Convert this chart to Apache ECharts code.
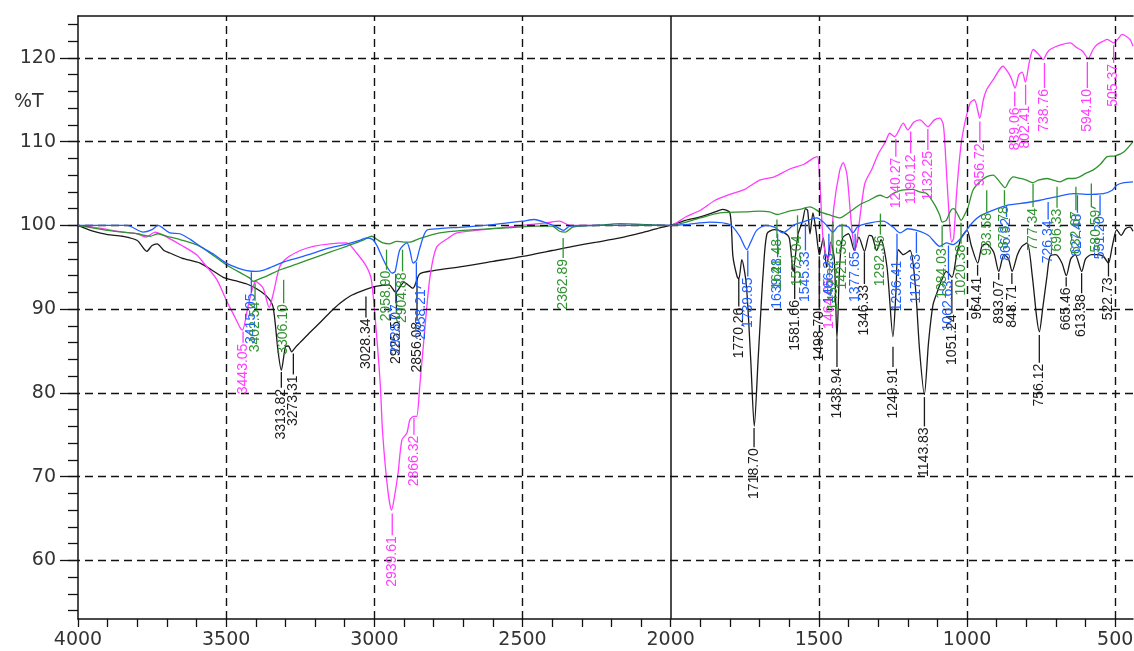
<!DOCTYPE html>
<html>
<head>
<meta charset="utf-8">
<title>IR overlay</title>
<script src="https://cdn.jsdelivr.net/npm/echarts@6/dist/echarts.min.js"></script>
<style>
html, body { margin: 0; padding: 0; background: #fff; }
#chart { width: 1134px; height: 651px; }
</style>
</head>
<body>
<div id="chart"></div>
<script>
// ---- axis ticks ----
var xTicks = [4000, 3500, 3000, 2500, 2000, 1500, 1000, 500];
var yTicks = [60, 70, 80, 90, 100, 110, 120];
var xMinorTicks = [];
for (var v = 500; v <= 4000; v += 100) xMinorTicks.push(v);
var yMinorTicks = [];
for (var w = 54; w <= 124; w += 2) yMinorTicks.push(w);

// ---- spectra [wavenumber, %T] ----
var blackCurve = [
	[4000, 100], [3950, 99.3], [3900, 98.9], [3850, 98.7], [3800, 98.2], [3768, 96.9], [3750, 97.6],
	[3733, 97.8], [3710, 97.0], [3690, 96.7], [3650, 96.1], [3588, 95.5], [3550, 94.7], [3510, 93.8],
	[3470, 93.4], [3430, 93.0], [3396, 92.4], [3362, 91.5], [3342, 90.3], [3325, 85.0], [3314, 82.7],
	[3300, 85.5], [3290, 85.6], [3279, 84.9], [3265, 85.5], [3251, 86.0], [3215, 87.3], [3183, 88.4],
	[3150, 89.6], [3116, 90.7], [3080, 91.6], [3048, 92.1], [3008, 92.6], [2980, 92.8], [2950, 92.9],
	[2928, 92.0], [2900, 93.2], [2870, 92.5], [2847, 94.2], [2800, 94.6], [2700, 95.1], [2600, 95.7],
	[2500, 96.3], [2400, 97.0], [2330, 97.5], [2250, 98.0], [2171, 98.5], [2100, 99.1], [2037, 99.7],
	[2000, 100], [1950, 100.6], [1900, 101.0], [1850, 101.6], [1825, 101.9], [1800, 101.5], [1790, 96.3],
	[1776, 93.9], [1770, 93.6], [1760, 95.9], [1745, 93.0], [1730, 84.0], [1718, 76.0], [1705, 84.0],
	[1698, 88.4], [1688, 94.3], [1675, 99.0], [1650, 99.5], [1620, 99.2], [1600, 98.5], [1587, 94.5],
	[1570, 99.0], [1555, 100.5], [1545, 102.0], [1538, 101.8], [1530, 99.0], [1520, 101.5], [1510, 99.5],
	[1498, 96.5], [1485, 98.5], [1474, 95.0], [1460, 98.0], [1448, 96.0], [1439, 86.5], [1430, 95.0],
	[1420, 98.5], [1400, 99.0], [1380, 97.0], [1365, 98.6], [1346, 96.9], [1330, 98.8], [1320, 98.7],
	[1305, 97.0], [1290, 98.3], [1270, 95.0], [1250, 86.7], [1240, 92.0], [1232, 97.1], [1215, 96.5],
	[1192, 97.0], [1175, 93.0], [1160, 85.0], [1144, 79.8], [1130, 86.0], [1115, 90.5], [1102, 91.9],
	[1085, 93.5], [1070, 94.5], [1051, 93.8], [1035, 96.5], [1020, 98.5], [1000, 99.4], [985, 97.5],
	[964, 95.5], [950, 97.5], [935, 97.8], [910, 96.8], [893, 94.5], [875, 96.5], [860, 96.0],
	[848, 94.5], [830, 96.5], [815, 97.5], [797, 97.9], [780, 94.0], [765, 89.0], [756, 87.3],
	[745, 90.0], [730, 94.0], [720, 96.3], [700, 96.5], [680, 95.5], [665, 94.0], [650, 96.0],
	[635, 96.5], [613, 94.5], [600, 96.0], [580, 96.5], [560, 96.5], [540, 96.3], [523, 95.5],
	[510, 97.5], [495, 99.5], [480, 98.8], [465, 99.6], [450, 99.8], [440, 99.3]
];
var pinkCurve = [
	[4000, 100], [3950, 99.8], [3900, 99.5], [3848, 99.2], [3800, 99.0], [3770, 98.6], [3740, 99.2],
	[3700, 98.6], [3650, 97.6], [3600, 96.5], [3578, 95.6], [3531, 93.5], [3500, 91.1], [3470, 89.0],
	[3453, 87.8], [3445, 87.5], [3425, 90.5], [3400, 93.3], [3375, 92.5], [3355, 90.2], [3340, 92.0],
	[3320, 95.0], [3295, 96.1], [3250, 97.0], [3206, 97.5], [3150, 97.8], [3094, 97.9], [3060, 96.7],
	[3027, 95.1], [3010, 93.5], [2993, 87.1], [2980, 81.0], [2972, 75.2], [2955, 68.5], [2942, 66.0],
	[2935, 67.0], [2920, 70.4], [2907, 74.4], [2890, 75.2], [2880, 76.8], [2866, 77.2], [2857, 77.2],
	[2847, 80.7], [2829, 87.9], [2812, 93.9], [2790, 97.4], [2750, 98.5], [2721, 99.1], [2600, 99.6],
	[2500, 100], [2420, 100.3], [2375, 100.5], [2340, 100], [2200, 100], [2100, 100], [2000, 100],
	[1950, 101.0], [1900, 101.8], [1850, 103.0], [1800, 103.7], [1750, 104.3], [1700, 105.4],
	[1650, 105.8], [1600, 106.7], [1550, 107.3], [1520, 108.0], [1505, 108.2], [1495, 104.0],
	[1485, 98.0], [1470, 96.0], [1460, 97.0], [1450, 102.0], [1430, 106.5], [1418, 107.5], [1405, 106.0],
	[1390, 100.0], [1378, 97.0], [1365, 100.0], [1345, 105.0], [1320, 106.8], [1300, 108.5],
	[1275, 110.0], [1261, 111.0], [1244, 110.6], [1215, 112.2], [1200, 111.4], [1180, 112.3],
	[1159, 112.6], [1132, 111.8], [1110, 112.6], [1092, 112.8], [1080, 112.0], [1072, 108.0],
	[1062, 102.0], [1052, 98.0], [1045, 98.5], [1035, 104.0], [1018, 110.2], [990, 114.6], [975, 115.0],
	[957, 112.8], [945, 115.0], [934, 116.2], [910, 117.5], [879, 119.0], [862, 118.3], [850, 117.5],
	[838, 116.4], [825, 118.0], [814, 118.3], [803, 117.1], [790, 119.5], [777, 121.0], [760, 120.5],
	[743, 119.8], [730, 120.6], [720, 121.0], [690, 121.5], [652, 121.8], [629, 121.2], [610, 120.8],
	[591, 119.9], [575, 121.0], [561, 121.6], [540, 122.0], [527, 122.2], [505, 121.8], [490, 122.3],
	[477, 122.8], [460, 122.5], [450, 122.2], [440, 121.4]
];
var blueCurve = [
	[4000, 100], [3900, 100], [3835, 100], [3780, 99.2], [3750, 99.5], [3730, 100], [3690, 99.1],
	[3656, 99.0], [3620, 98.3], [3588, 97.5], [3540, 96.5], [3500, 95.5], [3460, 94.9], [3430, 94.6],
	[3400, 94.5], [3370, 94.7], [3342, 95.1], [3300, 95.7], [3250, 96.2], [3206, 96.7], [3150, 97.3],
	[3100, 97.7], [3050, 98.2], [3027, 98.5], [3005, 98.3], [2990, 97.5], [2980, 96.7], [2958, 95.1],
	[2940, 94.3], [2930, 94.5], [2914, 97.1], [2890, 97.9], [2880, 97.0], [2869, 95.5], [2858, 95.8],
	[2848, 97.1], [2824, 99.4], [2780, 99.6], [2700, 99.8], [2600, 100.1], [2500, 100.5], [2460, 100.7],
	[2420, 100.3], [2384, 99.8], [2362, 99.4], [2340, 99.9], [2250, 100], [2100, 100], [2000, 100],
	[1950, 100.1], [1868, 100.4], [1800, 100.1], [1767, 98.7], [1743, 97.1], [1730, 98.0], [1710, 99.4],
	[1680, 100], [1650, 99.8], [1622, 99.1], [1600, 99.6], [1587, 100], [1553, 100.4], [1507, 100.9],
	[1485, 100.4], [1474, 100], [1453, 99.2], [1435, 99.9], [1418, 100], [1400, 99.8], [1385, 99.1],
	[1370, 99.8], [1340, 100.2], [1283, 100.5], [1250, 99.8], [1226, 99.1], [1200, 99.6], [1170, 99.4],
	[1130, 98.8], [1092, 97.5], [1070, 97.9], [1047, 97.7], [1020, 98.5], [1000, 99.5], [980, 100.4],
	[957, 101.1], [920, 101.7], [866, 102.4], [800, 102.7], [753, 103.0], [700, 103.4], [641, 103.8],
	[600, 103.7], [540, 103.8], [510, 104.2], [495, 104.8], [470, 105.1], [440, 105.2]
];
var greenCurve = [
	[4000, 100], [3900, 99.4], [3800, 99.0], [3757, 98.7], [3730, 99.0], [3700, 98.7], [3656, 98.3],
	[3588, 97.5], [3500, 95.3], [3420, 93.7], [3409, 93.3], [3395, 93.5], [3360, 94.0], [3318, 94.7],
	[3260, 95.4], [3206, 96.1], [3150, 96.8], [3094, 97.5], [3040, 98.2], [3009, 98.7], [2990, 98.3],
	[2971, 97.9], [2950, 97.8], [2925, 98.1], [2900, 98.0], [2880, 98.0], [2850, 98.4], [2780, 99.1],
	[2700, 99.4], [2555, 99.7], [2450, 99.9], [2400, 99.9], [2375, 99.3], [2355, 99.2], [2330, 99.8],
	[2250, 100], [2171, 100.2], [2000, 100], [1900, 100.9], [1834, 101.5], [1750, 101.6], [1700, 101.7],
	[1666, 101.6], [1641, 101.3], [1600, 101.7], [1564, 101.9], [1530, 102.2], [1497, 101.6],
	[1460, 101.2], [1429, 100.9], [1400, 101.5], [1361, 102.5], [1330, 103.0], [1294, 103.6],
	[1270, 103.3], [1250, 103.8], [1220, 104.2], [1183, 104.3], [1160, 104.0], [1136, 103.8],
	[1110, 102.5], [1092, 101.2], [1084, 100.4], [1070, 100.6], [1055, 101.8], [1045, 102.0],
	[1030, 101.2], [1020, 100.6], [1005, 101.5], [997, 102.1], [980, 104.2], [957, 105.2], [935, 105.8],
	[912, 106.0], [890, 105.2], [872, 104.5], [858, 105.3], [845, 105.8], [820, 105.6], [800, 105.4],
	[777, 105.1], [760, 105.4], [730, 105.6], [700, 105.3], [686, 105.2], [660, 105.6], [640, 105.6],
	[620, 105.8], [600, 106.2], [575, 106.6], [550, 107.3], [527, 108.2], [500, 108.3], [470, 108.8],
	[440, 110.0]
];

// ---- peak labels: [peak wavenumber, %T where tick starts, %T where text starts, text, text wavenumber] ----
var pinkPeaks = [
	[3443.05, 87.3, 86.0, '3443.05'], [2939.61, 65.6, 63.0, '2939.61'], [2866.32, 77.0, 75.0, '2866.32'],
	[1464.05, 95.5, 93.8, '1464.05'], [1240.27, 110.3, 108.2, '1240.27'], [1190.12, 111.2, 108.6, '1190.12'],
	[1132.25, 111.5, 109.0, '1132.25'], [956.72, 112.4, 109.9, '956.72'], [839.06, 116.0, 114.2, '839.06'],
	[802.41, 116.8, 114.4, '802.41'], [738.76, 119.4, 116.4, '738.76'], [594.10, 119.5, 116.4, '594.10'],
	[505.37, 121.5, 119.4, '505.37']
];
var blackPeaks = [
	[3313.82, 82.5, 80.6, '3313.82'], [3273.31, 84.7, 82.2, '3273.31'], [3028.34, 91.5, 89.0, '3028.34'],
	[2925.57, 92.0, 89.6, '2925.57'], [2856.08, 93.8, 88.6, '2856.08'], [1770.26, 93.6, 90.3, '1770.26'],
	[1718.70, 75.8, 73.5, '1718.70'], [1581.66, 95.0, 91.2, '1581.66'], [1498.70, 96.3, 89.9, '1498.70'],
	[1438.94, 86.5, 83.1, '1438.94'], [1346.33, 96.8, 93.0, '1346.33'], [1249.91, 85.5, 83.1, '1249.91'],
	[1143.83, 79.5, 76.0, '1143.83'], [1051.24, 93.5, 89.5, '1051.24'], [964.41, 95.3, 94.0, '964.41'],
	[893.07, 94.3, 93.5, '893.07'], [848.71, 94.3, 93.0, '848.71'], [756.12, 86.9, 83.6, '756.12'],
	[665.46, 93.8, 92.7, '665.46'], [613.38, 94.3, 91.9, '613.38'], [522.73, 96.1, 93.9, '522.73']
];
var bluePeaks = [
	[3415.05, 94.4, 92.0, '3415.05'], [2928.07, 94.2, 90.7, '2928.07'], [2858.21, 95.6, 92.5, '2858.21', 2842],
	[1739.85, 97.0, 93.9, '1739.85'], [1639.28, 99.0, 96.2, '1639.28'], [1545.33, 100.3, 97.0, '1545.33'],
	[1466.23, 99.0, 96.8, '1466.23'], [1377.65, 99.0, 97.0, '1377.65'], [1236.41, 99.0, 95.9, '1236.41'],
	[1170.83, 99.2, 96.7, '1170.83'], [1062.63, 97.6, 93.5, '1062.63'], [866.92, 102.3, 101.0, '866.92'],
	[726.34, 102.8, 100.7, '726.34'], [627.48, 103.6, 101.5, '627.48'], [551.20, 103.6, 101.2, '551.20']
];
var greenPeaks = [
	[3402.54, 93.1, 91.0, '3402.54'], [3306.10, 93.5, 90.7, '3306.10'], [2958.90, 97.1, 94.7, '2958.90'],
	[2904.88, 97.1, 94.5, '2904.88'], [2362.89, 98.5, 96.1, '2362.89'], [1641.48, 100.7, 98.5, '1641.48'],
	[1572.04, 101.2, 98.9, '1572.04'], [1452.37, 100.5, 96.0, '1452.37'], [1421.58, 100.2, 98.5, '1421.58'],
	[1292.36, 101.4, 98.9, '1292.36'], [1084.03, 100.0, 97.4, '1084.03'], [1020.38, 100.3, 97.8, '1020.38'],
	[933.58, 104.2, 101.6, '933.58'], [873.78, 104.2, 102.4, '873.78'], [777.34, 105.0, 102.2, '777.34'],
	[696.33, 104.6, 102.1, '696.33'], [632.67, 104.6, 101.8, '632.67'], [580.59, 105.0, 102.0, '580.59', 566]
];

var COLORS = { black: '#1a1a1a', pink: '#ff3cff', blue: '#1f5fff', green: '#2f932f' };
var LABEL_FONT = '14px "Liberation Sans", Arial, sans-serif';

// 曲线
function curveSeries(name, data, color, z) {
	return {
		name: name, type: 'line', data: data, symbol: 'none', smooth: 0.25,
		lineStyle: { color: color, width: 1.3 }, z: z, silent: true
	};
}

// 峰值标注（竖线 + 竖排数字）
function peakSeries(peaks, color, z) {
	return {
		type: 'custom', z: z, silent: true, clip: false,
		data: peaks.map(function(p) { return [p[0], p[1], p[2], p[4] != null ? p[4] : p[0]]; }),
		encode: { x: 0, y: 1 },
		renderItem: function(params, api) {
			var p = peaks[params.dataIndex];
			var a = api.coord([api.value(0), api.value(1)]);
			var b = api.coord([api.value(0), api.value(2)]);
			var t = api.coord([api.value(3), api.value(2)]);
			return {
				type: 'group',
				children: [{
					type: 'polyline',
					shape: { points: [a, [b[0], b[1] - 2], t] },
					style: { stroke: color, lineWidth: 1.3, fill: null }
				}, {
					type: 'text',
					x: t[0], y: t[1] + 1, rotation: Math.PI / 2,
					style: { text: p[3], fill: color, font: LABEL_FONT, align: 'right', verticalAlign: 'middle' }
				}]
			};
		}
	};
}

var gridMarks = yTicks.map(function(v) { return { yAxis: v }; })
	.concat(xTicks.filter(function(v) { return v !== 2000 && v !== 4000; }).map(function(v) { return { xAxis: v }; }))
	.concat([{ xAxis: 2000, lineStyle: { type: 'solid', width: 1.5, color: '#111' } }]);

function plainNum(v) { return String(v); }

var myChart = echarts.init(document.getElementById('chart'));
var option = {
	animation: false,
	backgroundColor: '#fff',
	grid: { left: 78, right: 1, top: 16, bottom: 32, containLabel: false, outerBoundsMode: 'none' },
	graphic: [{
		type: 'text', left: 14, top: 93,
		style: { text: '%T', font: '19px "DejaVu Sans", sans-serif', fill: '#333' }
	}],
	xAxis: [{
		type: 'value', min: 440, max: 4000, inverse: true, position: 'bottom',
		axisLine: { show: true, lineStyle: { color: '#111', width: 1.5 } },
		axisTick: { show: true, length: 8, customValues: xMinorTicks, lineStyle: { color: '#111', width: 1.3 } },
		axisLabel: { customValues: xTicks, formatter: plainNum, color: '#333', fontSize: 19, fontFamily: 'DejaVu Sans', margin: 12 },
		splitLine: { show: false }
	}, {
		type: 'value', min: 440, max: 4000, inverse: true, position: 'top',
		axisLine: { show: true, lineStyle: { color: '#111', width: 1.5 } },
		axisTick: { show: false }, axisLabel: { show: false }, splitLine: { show: false }
	}],
	yAxis: [{
		type: 'value', min: 53, max: 125, position: 'left',
		axisLine: { show: true, lineStyle: { color: '#111', width: 1.5 } },
		axisTick: { show: true, length: 18, customValues: yTicks, lineStyle: { color: '#111', width: 1.3 } },
		axisLabel: { customValues: yTicks, formatter: plainNum, color: '#333', fontSize: 19, fontFamily: 'DejaVu Sans', margin: 22 },
		splitLine: { show: false }
	}, {
		type: 'value', min: 53, max: 125, position: 'left',
		axisLine: { show: false },
		axisTick: { show: true, length: 10, customValues: yMinorTicks, lineStyle: { color: '#111', width: 1.3 } },
		axisLabel: { show: false }, splitLine: { show: false }
	}],
	series: [
		{
			type: 'line', data: [], silent: true, z: 0,
			markLine: {
				silent: true, symbol: 'none', label: { show: false }, animation: false,
				lineStyle: { type: [8, 5], color: '#111', width: 1.4 },
				data: gridMarks
			}
		},
		curveSeries('black', blackCurve, COLORS.black, 2),
		curveSeries('pink', pinkCurve, COLORS.pink, 3),
		curveSeries('green', greenCurve, COLORS.green, 4),
		curveSeries('blue', blueCurve, COLORS.blue, 5),
		peakSeries(blackPeaks, COLORS.black, 6),
		peakSeries(pinkPeaks, COLORS.pink, 7),
		peakSeries(bluePeaks, COLORS.blue, 8),
		peakSeries(greenPeaks, COLORS.green, 9)
	]
};
myChart.setOption(option);
</script>
</body>
</html>
